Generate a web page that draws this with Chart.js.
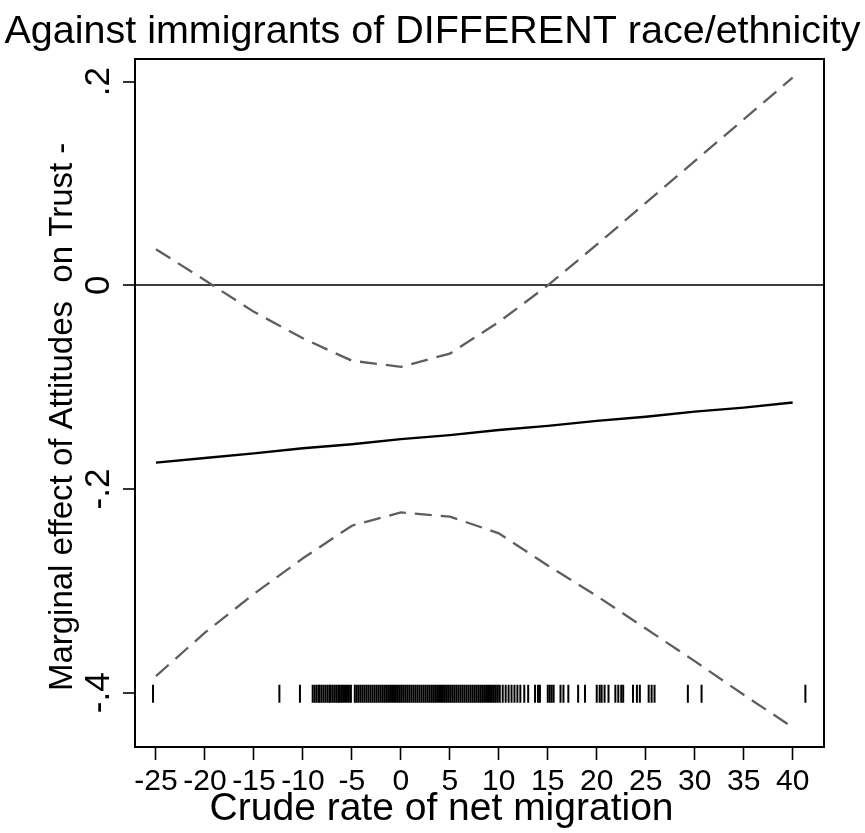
<!DOCTYPE html>
<html><head><meta charset="utf-8">
<script src="https://cdn.jsdelivr.net/npm/chart.js@4.4.1/dist/chart.umd.min.js"></script>
<style>html,body{margin:0;padding:0;background:#fff;} #wrap{width:865px;height:833px;}</style>
</head><body><div id="wrap"><canvas id="c" width="865" height="833"></canvas></div>
<script>
const titleText = 'Against immigrants of DIFFERENT race/ethnicity';
const xTitle = 'Crude rate of net migration       ';
const yTitle = 'Marginal effect of Attitudes  on Trust -   ';

const migration = [-25, -20, -15, -10, -5, 0, 5, 10, 15, 20, 25, 30, 35, 40];
const effect    = [-0.174, -0.1695, -0.165, -0.160, -0.156, -0.151, -0.147, -0.142, -0.138, -0.133, -0.129, -0.124, -0.120, -0.115];
const upperCI   = [0.0355, 0.005, -0.026, -0.052, -0.074, -0.080, -0.067, -0.036, 0.000, 0.040, 0.081, 0.122, 0.163, 0.204];
const lowerCI   = [-0.3836, -0.341, -0.303, -0.268, -0.236, -0.223, -0.227, -0.2435, -0.275, -0.305, -0.337, -0.369, -0.402, -0.434];

const rugValues = [-25.3, -12.4, -10.3,
  -9.0, -8.8, -8.6, -8.4, -8.3, -8.1, -7.9, -7.7, -7.5, -7.3, -7.2, -7.0, -6.8, -6.6, -6.4, -6.3, -6.1, -5.9, -5.7, -5.5, -5.3, -5.1,
  -4.7,-4.5,-4.3,-4.1,-3.9,-3.7,-3.5,-3.3,-3.1,-2.9,-2.7,-2.5,-2.3,-2.1,-1.9,-1.7,-1.5,-1.3,-1.1,-0.9,-0.7,-0.5,-0.3,-0.1,
  0.1,0.3,0.5,0.7,0.9,1.1,1.3,1.5,1.7,1.9,2.1,2.3,2.5,2.7,2.9,3.1,3.3,3.5,3.7,3.9,4.1,4.3,4.5,4.7,4.9,
  5.1,5.3,5.5,5.7,5.9,6.1,6.3,6.5,6.7,6.9,7.1,7.3,7.5,7.7,7.9,8.1,8.3,8.5,8.7,8.9,9.1,9.3,9.5,9.7,9.9,
  10.1, 10.4, 10.7, 11.0, 11.3, 11.6, 11.9, 12.2, 12.6, 13.0, 13.7, 14.0, 14.2, 15.0, 15.2, 15.4, 15.6, 16.3, 16.6, 17.1,
  18.1, 18.8, 20.0, 20.3, 20.5, 20.8, 21.2, 21.9, 22.2, 22.5, 22.7, 23.7, 24.1, 24.4, 25.3, 25.6, 25.9, 29.3, 30.7, 41.3];
const rugLevel = -0.401;

const xTicks = [-25, -20, -15, -10, -5, 0, 5, 10, 15, 20, 25, 30, 35, 40];
const xTickLabels = ['-25','-20','-15','-10','-5','0','5','10','15','20','25','30','35','40'];
const yTicks = [-0.4, -0.2, 0, 0.2];
const yTickLabels = ['-.4', '-.2', '0', '.2'];

const xMin = -27.14, xMax = 43.2, yMin = -0.4533, yMax = 0.222;

const FONT = "'Liberation Sans', Arial, Helvetica, sans-serif";

const pts = arr => migration.map((x, i) => ({x: x, y: arr[i]}));

new Chart(document.getElementById('c'), {
  type: 'line',
  data: {
    datasets: [
      { label: 'effect', data: pts(effect), borderColor: '#000', borderWidth: 2.4, pointRadius: 0, fill: false, tension: 0 },
      { label: 'upper', data: pts(upperCI), borderColor: '#5e5e5e', borderWidth: 2.3, borderDash: [17, 9], pointRadius: 0, fill: false, tension: 0 },
      { label: 'lower', data: pts(lowerCI), borderColor: '#5e5e5e', borderWidth: 2.3, borderDash: [17, 9], pointRadius: 0, fill: false, tension: 0 },
      { type: 'scatter', label: 'rug', data: rugValues.map(v => ({x: v, y: rugLevel})), showLine: false,
        pointStyle: 'line', pointRotation: 90, pointRadius: 9, pointHoverRadius: 9,
        pointBorderColor: '#000', pointBorderWidth: 2, pointBackgroundColor: '#000' }
    ]
  },
  options: {
    responsive: false, animation: false, devicePixelRatio: 1,
    layout: { padding: 0 },
    plugins: {
      legend: { display: false }, tooltip: { enabled: false },
      title: { display: true, text: titleText, color: '#000',
        font: { family: FONT, size: 39.5, weight: 'normal', lineHeight: 1.2 },
        padding: { top: 8, bottom: 3.9 } }
    },
    scales: {
      x: {
        type: 'linear', position: 'bottom', min: xMin, max: xMax,
        afterBuildTicks: s => { s.ticks = xTicks.map(v => ({value: v})); },
        afterFit: s => { s.height = 86; },
        ticks: { autoSkip: false, maxRotation: 0, minRotation: 0, padding: 4, color: '#000',
          font: { family: FONT, size: 30 },
          callback: (v) => { const i = xTicks.indexOf(v); return i >= 0 ? xTickLabels[i] : ''; } },
        grid: { drawOnChartArea: false, drawTicks: true, tickLength: 13, tickColor: '#000', tickWidth: 1.6 },
        border: { display: true, color: '#000', width: 2 },
        title: { display: true, text: xTitle, color: '#000', font: { family: FONT, size: 39, lineHeight: 1.0 }, padding: { top: 0, bottom: 4 } }
      },
      y: {
        type: 'linear', position: 'left', min: yMin, max: yMax,
        afterBuildTicks: s => { s.ticks = yTicks.map(v => ({value: v})); },
        afterFit: s => { s.width = 135; },
        ticks: { autoSkip: false, minRotation: 90, maxRotation: 90, crossAlign: 'center', padding: 3, color: '#000',
          font: { family: FONT, size: 35 },
          callback: (v) => { const i = yTicks.findIndex(t => Math.abs(t - v) < 1e-9); return i >= 0 ? yTickLabels[i] : ''; } },
        grid: { drawOnChartArea: true, drawTicks: true, tickLength: 12, tickColor: '#000', tickWidth: 1.6,
          lineWidth: 2, color: c => (c.tick && Math.abs(c.tick.value) < 1e-9) ? '#3c3c3c' : 'rgba(0,0,0,0)' },
        border: { display: true, color: '#000', width: 2 },
        title: { display: true, text: yTitle, color: '#000', font: { family: FONT, size: 33, lineHeight: 1.2 }, padding: { top: 43, bottom: 0 } }
      },
      x2: {
        type: 'linear', position: 'top', min: xMin, max: xMax, display: true,
        ticks: { display: false }, grid: { display: false, drawTicks: false },
        border: { display: true, color: '#000', width: 2 },
        afterFit: s => { s.height = 0; }
      },
      y2: {
        type: 'linear', position: 'right', min: yMin, max: yMax, display: true,
        ticks: { display: false }, grid: { display: false, drawTicks: false },
        border: { display: true, color: '#000', width: 2 },
        afterFit: s => { s.width = 41; }
      }
    }
  }
});
</script></body></html>
